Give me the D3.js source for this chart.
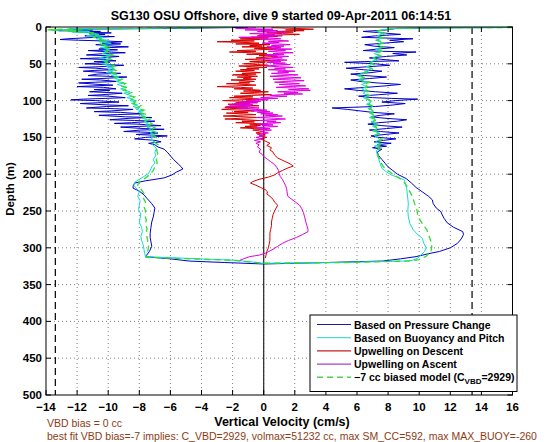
<!DOCTYPE html>
<html><head><meta charset="utf-8">
<script src="https://cdn.jsdelivr.net/npm/d3@7/dist/d3.min.js"></script>
<style>body{margin:0;background:#fff}svg{display:block}text{font-family:"Liberation Sans",Arial,Helvetica,sans-serif}</style>
</head><body><svg id="c" width="560" height="442"></svg>
<script>
// ---- data: [depth (m), velocity (cm/s)] ----
const pressureChange = [[0.5,-1],[2,-6],[3,-12.5],[4,-11],[5,-13.2],[6,-10.5],[7,-11.8],[8,-9.8],[9,-11.2],[10,-10.2],[12,-11.5],[13,-9.6],[14,-10.8],[16,-12.6],[17,-13.1],[18,-11.9],[19,-10.2],[20,-9.1],[22,-10.4],[23,-9.2],[24,-10.8],[26,-9.6],[27,-8.7],[28,-9.9],[30,-10.6],[31,-9.4],[32,-11.3],[34,-9.8],[35,-8.9],[36,-10.2],[38,-11.4],[39,-10.1],[40,-9.3],[42,-10.5],[43,-11.8],[44,-10.3],[46,-9.5],[47,-10.9],[48,-9.9],[50,-11.5],[51,-10.2],[52,-9.0],[54,-10.6],[55,-11.9],[56,-10.8],[58,-9.6],[59,-10.9],[60,-11.6],[62,-10.1],[63,-9.2],[64,-10.7],[66,-11.3],[67,-10.0],[68,-8.8],[70,-10.4],[71,-11.7],[72,-10.5],[74,-9.4],[75,-10.8],[76,-11.9],[78,-10.6],[79,-9.7],[80,-11.0],[81,-12.0],[82,-10.3],[84,-9.5],[85,-10.9],[86,-9.9],[88,-11.2],[89,-10.0],[90,-9.1],[92,-10.4],[93,-11.3],[94,-10.0],[96,-8.9],[97,-10.2],[98,-11.6],[99,-12.4],[100,-10.8],[102,-9.3],[103,-10.7],[104,-11.8],[106,-9.9],[107,-8.7],[108,-10.1],[110,-11.4],[111,-9.6],[112,-8.4],[114,-9.8],[115,-10.9],[116,-9.2],[118,-7.8],[119,-9.4],[120,-10.6],[122,-8.9],[123,-7.2],[124,-8.6],[126,-9.9],[127,-8.3],[128,-7.0],[130,-8.5],[131,-9.6],[132,-8.1],[134,-6.6],[135,-8.0],[136,-9.2],[138,-7.7],[139,-6.4],[140,-7.9],[142,-9.0],[143,-7.5],[144,-6.8],[146,-8.2],[147,-7.1],[148,-6.2],[150,-7.6],[152,-8.3],[154,-7.0],[156,-6.6],[158,-7.4],[160,-7.0],[163,-6.8],[166,-6.4],[170,-6.2],[175,-6.0],[180,-5.8],[186,-5.5],[190,-5.3],[193,-5.2],[197,-5.6],[201,-5.9],[205,-6.4],[209,-7.6],[212,-8.3],[216,-8.4],[219,-8.4],[223,-8.0],[228,-7.7],[233,-7.5],[240,-7.2],[246,-7.0],[252,-7.05],[258,-7.1],[265,-7.2],[272,-7.25],[280,-7.3],[286,-7.3],[292,-7.25],[298,-7.2],[305,-7.35],[312,-7.6],[315,-6.0],[318,-4.8],[320,-2.5],[322,0],
[320,4.0],[318,7.65],[315,8.8],[312,9.8],[308,10.6],[305,11.3],[300,12.0],[294,12.46],[288,12.7],[282,12.85],[278,12.8],[272,12.2],[266,11.8],[260,11.6],[254,11.45],[251,11.4],[246,11.1],[240,10.9],[235,10.85],[230,10.6],[224,10.2],[218,9.8],[212,9.5],[206,9.17],[200,8.6],[195,8.3],[190,8.0],[185,7.8],[180,7.6],[175,7.4],[170,7.3],[166,7.6],[164,7.0],[162,7.9],[160,7.3],[158,8.2],[156,7.1],[154,7.7],[152,8.5],[150,7.4],[148,6.9],[146,7.8],[144,8.7],[142,7.5],[140,6.8],[138,7.9],[136,8.9],[134,7.6],[132,6.7],[130,7.4],[128,8.6],[126,9.2],[124,7.8],[122,6.9],[120,7.5],[118,8.4],[116,7.0],[114,6.2],[112,5.4],[110,4.4],[109,5.8],[108,7.2],[106,8.3],[104,9.1],[102,7.6],[100,8.5],[98,9.9],[97,8.2],[96,7.0],[94,6.1],[92,7.4],[90,8.6],[88,7.2],[86,6.0],[84,5.2],[82,6.6],[80,7.8],[78,8.8],[76,7.3],[74,6.2],[72,5.6],[70,6.8],[68,7.9],[66,6.5],[64,5.6],[62,6.9],[60,7.6],[58,6.4],[56,5.3],[54,6.7],[52,8.1],[50,7.2],[48,5.2],[47,6.5],[46,8.7],[44,7.6],[42,6.8],[40,7.9],[38,9.2],[36,8.3],[34,9.8],[33,7.5],[32,6.4],[30,7.3],[28,8.4],[26,7.1],[24,6.5],[22,7.7],[20,9.0],[18,8.1],[16,9.6],[15,7.8],[14,6.3],[12,7.2],[10,8.8],[8,7.6],[6,6.4],[4,7.9],[2,8.5],[1,12],[0.3,20]];

const buoyancyPitch = [[0.3,-2],[2,-8],[3,-12],[4,-13.7],[5,-12.0],[6,-11.2],[7,-12.3],[8,-11.0],[10,-10.6],[12,-11.4],[14,-10.3],[16,-10.8],[18,-10.0],[20,-10.6],[22,-9.8],[24,-10.4],[26,-10.0],[28,-10.5],[30,-9.9],[32,-10.3],[34,-10.1],[36,-10.4],[38,-9.8],[40,-10.2],[42,-10.6],[44,-9.9],[46,-10.3],[48,-10.0],[50,-10.4],[52,-9.8],[54,-10.1],[56,-9.6],[58,-10.0],[60,-9.7],[62,-10.1],[64,-9.5],[66,-9.8],[68,-9.3],[70,-9.6],[72,-9.2],[74,-9.5],[76,-9.0],[78,-9.4],[80,-9.1],[82,-8.8],[84,-9.2],[86,-8.9],[88,-8.6],[90,-9.0],[92,-8.7],[94,-8.5],[96,-8.8],[98,-8.4],[100,-8.6],[102,-8.2],[104,-8.5],[106,-8.1],[108,-8.4],[110,-8.0],[112,-8.2],[114,-7.8],[116,-8.1],[118,-7.7],[120,-7.9],[122,-7.6],[124,-7.8],[126,-7.5],[128,-7.7],[130,-7.4],[132,-7.6],[134,-7.3],[136,-7.5],[138,-7.2],[140,-7.4],[142,-7.1],[144,-7.3],[146,-7.0],[148,-7.25],[150,-7.1],[153,-7.3],[156,-7.0],[160,-7.15],[165,-6.9],[170,-7.0],[175,-6.95],[180,-7.1],[185,-7.0],[190,-7.2],[195,-7.3],[199,-7.4],[203,-7.7],[207,-8.0],[211,-8.3],[215,-8.35],[219,-8.2],[224,-8.0],[230,-8.1],[236,-7.95],[242,-8.0],[248,-8.05],[254,-7.9],[260,-7.95],[266,-8.0],[272,-7.85],[278,-7.8],[284,-7.9],[290,-7.85],[296,-7.75],[302,-7.7],[308,-7.65],[312,-7.6],[317,-1.75],[321,0],
[320,5.0],[318,9.0],[317,9.57],[314,9.9],[310,10.1],[305,10.35],[300,10.45],[294,10.3],[287,10.2],[281,9.85],[275,9.6],[267,9.4],[258,9.3],[249,9.27],[240,9.3],[230,9.25],[220,9.2],[212,9.1],[208,9.06],[204,8.6],[201,8.2],[197,7.9],[192,7.6],[186,7.5],[180,7.4],[174,7.3],[168,7.25],[165,7.4],[162,7.1],[159,7.5],[156,7.2],[153,7.45],[150,7.3],[147,7.1],[144,7.4],[141,7.0],[138,7.3],[135,7.0],[132,7.2],[129,6.9],[126,7.2],[123,6.8],[120,7.1],[117,6.8],[114,7.05],[111,6.7],[108,7.0],[105,6.6],[102,6.9],[99,6.7],[96,6.4],[93,6.7],[90,6.4],[87,6.6],[84,6.3],[81,6.6],[78,6.3],[75,6.7],[72,6.1],[69,6.4],[66,6.0],[63,6.3],[60,6.6],[57,6.9],[54,6.6],[51,7.0],[48,6.8],[45,7.2],[42,7.0],[39,7.4],[36,7.1],[33,7.5],[30,7.2],[27,7.6],[24,7.3],[21,7.6],[18,7.2],[15,7.6],[12,7.3],[9,7.7],[6,7.2],[4,7.6],[2,8.2],[1,12],[0.3,20]];

const upwellDescent = [[1,0.5],[2,2.2],[3,3.2],[4,1.4],[5,2.6],[6,0.8],[7,1.9],[8,0.2],[9,1.2],[10,2.3],[11,0.6],[12,-0.4],[13,0.9],[14,-0.8],[15,0.3],[16,-1.5],[17,-0.2],[18,-2.1],[19,-0.6],[20,-3.0],[21,-1.2],[22,-0.3],[23,-1.8],[24,0.4],[25,-0.9],[26,-0.1],[27,-1.4],[28,0.5],[29,-0.6],[30,0.8],[31,-0.4],[32,-1.7],[33,-0.5],[34,-2.2],[35,-0.8],[36,0.2],[37,-1.1],[38,0.6],[39,-0.3],[40,0.9],[42,-0.5],[43,0.4],[44,-1.2],[45,-0.2],[46,0.7],[47,-0.9],[48,0.1],[50,-1.3],[51,-0.4],[52,0.3],[53,-1.6],[54,-0.7],[55,0.2],[56,-1.1],[57,-0.3],[58,-1.5],[59,-0.6],[60,-1.8],[61,-0.9],[62,-0.2],[63,-1.4],[64,-0.5],[65,-2.0],[66,-1.0],[67,-0.4],[68,-1.7],[69,-0.8],[70,-1.3],[71,-0.5],[72,-2.1],[73,-1.1],[74,-0.6],[75,-1.6],[76,-0.9],[77,-2.4],[78,-1.2],[79,-0.5],[80,-1.8],[81,-3.0],[82,-1.5],[83,-0.7],[84,-1.9],[85,-0.8],[86,-0.2],[87,-1.3],[88,0.3],[89,-0.6],[90,-1.5],[91,-0.4],[92,0.5],[93,-0.8],[94,-1.9],[95,-0.7],[96,-2.2],[97,-1.0],[98,-0.3],[99,-1.6],[100,-2.6],[101,-1.2],[102,-0.4],[103,-1.8],[104,-0.9],[105,-2.3],[106,-1.1],[107,-0.3],[108,-1.5],[109,-2.5],[110,-1.0],[111,-2.2],[112,-2.7],[113,-1.4],[114,-0.6],[115,-1.9],[116,-1.0],[117,-2.4],[118,-1.3],[119,-0.5],[120,-1.7],[121,-2.6],[122,-1.2],[123,-0.4],[124,-1.5],[125,-2.5],[126,-1.1],[127,-0.3],[128,-1.4],[129,-0.6],[130,-1.8],[131,-0.7],[132,0.1],[133,-0.9],[134,-0.2],[135,-1.2],[136,-0.4],[137,-1.5],[138,-0.6],[139,0.2],[140,-0.7],[142,0.0],[144,-0.5],[146,0.1],[148,-0.3],[150,0.2],[152,-0.2],[155,0.1],[158,0.4],[161,0.2],[164,0.5],[167,0.4],[170,0.6],[174,0.7],[178,0.9],[182,1.3],[186,1.7],[189,1.9],[192,1.5],[195,1.2],[198,0.9],[201,0.7],[204,0.3],[207,-0.3],[210,-0.7],[212,-0.85],[215,-0.5],[218,-0.2],[221,0.1],[224,0.25],[227,0.2],[230,0.4],[234,0.6],[238,0.7],[242,0.9],[246,0.8],[250,0.7],[255,0.6],[260,0.55],[265,0.5],[270,0.5],[275,0.45],[280,0.4],[285,0.4],[290,0.4],[295,0.35],[300,0.3],[305,0.2],[310,0.15],[314,0.1]];

const upwellAscent = [[1,-0.5],[2,-1.8],[3,0.6],[4,-1.2],[5,0.9],[6,-0.4],[7,1.5],[8,0.2],[9,-0.9],[10,0.7],[11,-0.3],[12,1.2],[13,0.1],[14,-1.6],[15,0.4],[16,1.1],[17,-0.2],[18,0.8],[19,1.6],[20,0.3],[21,1.0],[22,-0.1],[23,0.9],[24,1.7],[25,0.5],[26,1.3],[27,0.2],[28,1.1],[29,0.4],[30,1.8],[31,0.7],[32,1.4],[33,0.3],[34,1.0],[35,1.9],[36,0.6],[37,1.3],[38,0.1],[39,0.9],[40,1.6],[41,0.5],[42,1.2],[43,-0.2],[44,0.8],[45,1.5],[46,0.4],[47,1.1],[48,0.2],[49,1.4],[50,0.6],[51,1.7],[52,0.8],[53,0.1],[54,1.0],[55,1.9],[56,0.7],[57,1.4],[58,0.3],[59,1.2],[60,2.0],[61,0.9],[62,1.6],[63,0.5],[64,1.3],[65,2.2],[66,1.1],[67,0.4],[68,1.5],[69,2.4],[70,1.2],[71,0.6],[72,1.8],[73,2.6],[74,1.4],[75,0.7],[76,1.6],[77,2.3],[78,1.0],[79,1.9],[80,2.7],[81,1.5],[82,0.8],[83,2.1],[84,2.9],[85,1.6],[86,3.0],[87,1.8],[88,0.9],[89,2.2],[90,1.3],[91,2.5],[92,1.1],[93,0.4],[94,1.5],[95,0.6],[96,-0.2],[97,0.9],[98,-0.6],[99,0.3],[100,-1.1],[101,-0.2],[102,-1.5],[103,-0.4],[104,-1.9],[105,-0.7],[106,-2.2],[107,-0.9],[108,-2.4],[109,-1.0],[110,-0.3],[111,-1.6],[112,-0.5],[113,0.2],[114,-0.8],[115,0.4],[116,-0.4],[117,0.6],[118,-0.2],[119,0.9],[120,0.1],[121,1.2],[122,0.3],[123,-0.5],[124,0.7],[125,1.4],[126,0.4],[127,-0.3],[128,0.8],[129,0.2],[130,1.1],[131,0.3],[132,-0.4],[133,0.6],[134,-0.1],[135,0.9],[136,0.2],[137,-0.5],[138,0.4],[139,-0.3],[140,0.5],[142,-0.2],[144,0.3],[146,-0.4],[148,0.1],[150,-0.5],[152,-0.1],[154,-0.6],[156,-0.2],[158,-0.5],[160,-0.3],[163,-0.4],[166,-0.2],[170,-0.3],[173,-0.1],[176,0.0],[179,0.2],[183,0.45],[187,0.7],[191,0.85],[195,0.95],[199,1.0],[203,1.06],[207,1.2],[211,1.3],[215,1.4],[219,1.46],[223,1.5],[227,1.52],[230,1.55],[234,1.8],[238,2.05],[242,2.3],[247,2.45],[252,2.55],[258,2.63],[264,2.7],[270,2.78],[275,2.85],[278,2.85],[282,2.5],[286,2.1],[290,1.6],[294,1.2],[298,0.9],[302,0.6],[307,0.15],[310,-0.3],[312,-0.9],[315,-1.3],[317,-1.54]];

const biasedModel = [[0.3,-2],[2,-9],[3,-13],[4,-13.9],[5,-11.8],[6,-12.6],[8,-10.8],[10,-11.2],[12,-10.5],[14,-11.0],[16,-10.4],[18,-10.7],[20,-10.2],[23,-10.5],[26,-9.9],[29,-10.3],[32,-10.0],[35,-10.2],[38,-9.7],[41,-10.1],[44,-9.8],[47,-10.2],[50,-9.9],[53,-9.6],[56,-9.9],[59,-9.5],[62,-9.8],[65,-9.3],[68,-9.6],[71,-9.1],[74,-9.4],[77,-8.9],[80,-9.2],[83,-8.7],[86,-9.0],[89,-8.5],[92,-8.8],[95,-8.3],[98,-8.6],[101,-8.1],[104,-8.4],[107,-7.9],[110,-8.2],[113,-7.7],[116,-8.0],[119,-7.5],[122,-7.8],[125,-7.3],[128,-7.6],[131,-7.2],[134,-7.4],[137,-7.0],[140,-7.3],[143,-6.9],[146,-7.2],[150,-6.9],[155,-7.1],[160,-6.8],[165,-6.9],[170,-6.85],[175,-6.8],[180,-6.9],[185,-6.85],[190,-7.0],[195,-7.1],[200,-7.3],[205,-7.6],[210,-8.0],[215,-8.1],[220,-7.9],[226,-7.7],[232,-7.75],[238,-7.6],[244,-7.7],[250,-7.6],[256,-7.65],[262,-7.55],[268,-7.6],[274,-7.5],[280,-7.55],[286,-7.5],[292,-7.45],[298,-7.4],[304,-7.45],[310,-7.5],[313,-7.55],[317,-2.0],[321,0],
[320,5.2],[318,9.3],[316,10.0],[312,10.4],[306,10.75],[300,10.8],[294,10.8],[288,10.7],[282,10.6],[276,10.5],[270,10.3],[262,10.05],[255,9.9],[248,9.85],[240,9.7],[232,9.6],[224,9.4],[216,9.2],[210,9.0],[205,8.7],[200,8.3],[195,8.0],[190,7.7],[185,7.55],[180,7.45],[174,7.35],[168,7.3],[165,7.5],[162,7.2],[159,7.55],[156,7.3],[153,7.6],[150,7.35],[147,7.2],[144,7.5],[141,7.1],[138,7.4],[135,7.15],[132,7.35],[129,7.0],[126,7.3],[123,6.95],[120,7.2],[117,6.9],[114,7.15],[111,6.8],[108,7.1],[105,6.75],[102,7.0],[99,6.8],[96,6.5],[93,6.8],[90,6.5],[87,6.75],[84,6.4],[81,6.7],[78,6.45],[75,6.8],[72,6.2],[69,6.55],[66,6.15],[63,6.4],[60,6.75],[57,7.0],[54,6.75],[51,7.1],[48,6.9],[45,7.3],[42,7.1],[39,7.5],[36,7.2],[33,7.6],[30,7.3],[27,7.7],[24,7.4],[21,7.75],[18,7.3],[15,7.7],[12,7.4],[9,7.8],[6,7.3],[4,7.7],[2,8.5],[1,12],[0.3,20]];

const velocityLimits = [-13.4, 13.4];
const xTicks = [-14,-12,-10,-8,-6,-4,-2,0,2,4,6,8,10,12,14,16];
const yTicks = [0,50,100,150,200,250,300,350,400,450,500];
const seriesNames = ["Based on Pressure Change","Based on Buoyancy and Pitch","Upwelling on Descent","Upwelling on Ascent"];
const titleText = "SG130 OSU Offshore, dive 9 started 09-Apr-2011 06:14:51";
const noteLines = ["VBD bias = 0 cc","best fit VBD bias=-7 implies: C_VBD=2929, volmax=51232 cc, max SM_CC=592, max MAX_BUOY=-260"];

// ---- layout ----
const L=46, T=27, R=512.5, B=395;
const svg = d3.select("#c");
const x = d3.scaleLinear().domain([-14,16]).range([L,R]);
const y = d3.scaleLinear().domain([0,500]).range([T,B]);
const font = '"Liberation Sans",Arial,Helvetica,sans-serif';

svg.append("defs").append("clipPath").attr("id","clip").append("rect")
  .attr("x",L).attr("y",T).attr("width",R-L).attr("height",B-T);

// grid
const grid = svg.append("g");
grid.selectAll(".gx").data(xTicks.slice(1,-1)).join("line")
  .attr("x1",d=>x(d)).attr("x2",d=>x(d)).attr("y1",T).attr("y2",B)
  .attr("stroke","#808080").attr("stroke-width",1).attr("stroke-dasharray","1,3");
grid.selectAll(".gy").data(yTicks.slice(1,-1)).join("line")
  .attr("y1",d=>y(d)).attr("y2",d=>y(d)).attr("x1",L).attr("x2",R)
  .attr("stroke","#808080").attr("stroke-width",1).attr("stroke-dasharray","1,3");

// limits & zero line
svg.selectAll(".lim").data(velocityLimits).join("line")
  .attr("x1",d=>x(d)).attr("x2",d=>x(d)).attr("y1",T).attr("y2",B)
  .attr("stroke","#000").attr("stroke-width",1.2).attr("stroke-dasharray","7,4");
svg.append("line").attr("x1",x(0)).attr("x2",x(0)).attr("y1",T).attr("y2",B)
  .attr("stroke","#222").attr("stroke-width",1.2);

// data
const line = d3.line().x(d=>x(d[1])).y(d=>y(d[0]));
const gData = svg.append("g").attr("clip-path","url(#clip)");
const styles = [
  {data:pressureChange, color:"#0000c8", w:1, dash:null},
  {data:buoyancyPitch, color:"#10dcdc", w:1, dash:null},
  {data:upwellDescent, color:"#d80000", w:1, dash:null},
  {data:upwellAscent, color:"#e000e0", w:1, dash:null},
  {data:biasedModel, color:"#30dd30", w:1.3, dash:"6,4"}
];
styles.forEach(s=>{
  gData.append("path").datum(s.data).attr("d",line).attr("fill","none")
    .attr("stroke",s.color).attr("stroke-width",s.w)
    .attr("stroke-dasharray",s.dash);
});

// axes box and ticks
const ax = svg.append("g");
ax.append("rect").attr("x",L).attr("y",T).attr("width",R-L).attr("height",B-T)
  .attr("fill","none").attr("stroke","#000").attr("stroke-width",1);
const tl=5;
xTicks.forEach(t=>{
  ax.append("line").attr("x1",x(t)).attr("x2",x(t)).attr("y1",B).attr("y2",B-tl).attr("stroke","#000");
  ax.append("line").attr("x1",x(t)).attr("x2",x(t)).attr("y1",T).attr("y2",T+tl).attr("stroke","#000");
});
yTicks.forEach(t=>{
  ax.append("line").attr("y1",y(t)).attr("y2",y(t)).attr("x1",L).attr("x2",L+tl).attr("stroke","#000");
  ax.append("line").attr("y1",y(t)).attr("y2",y(t)).attr("x1",R).attr("x2",R-tl).attr("stroke","#000");
});
ax.selectAll(".xl").data(xTicks).join("text")
  .attr("x",d=>x(d)).attr("y",411).attr("text-anchor","middle")
  .attr("font-size","11.5px").attr("font-weight","bold").attr("font-family",font)
  .text(d=>d<0?"\u2212"+Math.abs(d):d);
ax.selectAll(".yl").data(yTicks).join("text")
  .attr("x",L-4).attr("y",d=>y(d)+4).attr("text-anchor","end")
  .attr("font-size","11.5px").attr("font-weight","bold").attr("font-family",font)
  .text(d=>d);

// labels
svg.append("text").attr("x",281).attr("y",19.5).attr("text-anchor","middle")
  .attr("font-size","12.5px").attr("font-weight","bold").attr("font-family",font).text(titleText);
svg.append("text").attr("x",282).attr("y",426).attr("text-anchor","middle")
  .attr("font-size","12.5px").attr("font-weight","bold").attr("font-family",font).text("Vertical Velocity (cm/s)");
svg.append("text").attr("transform","translate(14,189) rotate(-90)").attr("text-anchor","middle")
  .attr("font-size","11.5px").attr("font-weight","bold").attr("font-family",font).text("Depth (m)");
svg.append("text").attr("x",47).attr("y",427).attr("font-size","10.5px").attr("font-family",font)
  .attr("fill","#8c3c14").text(noteLines[0]);
svg.append("text").attr("x",47).attr("y",439.5).attr("font-size","10.5px").attr("font-family",font)
  .attr("fill","#8c3c14").text(noteLines[1]);

// legend
const lg = svg.append("g");
lg.append("rect").attr("x",310).attr("y",315).attr("width",207).attr("height",76.5)
  .attr("fill","#fff").attr("stroke","#000").attr("stroke-width",1);
const legendColors = ["#1c1c96","#50dcdc","#c02020","#b040c0","#50d050"];
const rowsY = [324.5,337.7,350.9,364.1,377.3];
seriesNames.forEach((n,i)=>{
  lg.append("line").attr("x1",317).attr("x2",351).attr("y1",rowsY[i]).attr("y2",rowsY[i])
    .attr("stroke",legendColors[i]).attr("stroke-width",1.2);
  lg.append("text").attr("x",354).attr("y",rowsY[i]+4).attr("font-size","10.5px").attr("font-weight","bold")
    .attr("font-family",font).text(n);
});
lg.append("line").attr("x1",317).attr("x2",351).attr("y1",rowsY[4]).attr("y2",rowsY[4])
  .attr("stroke",legendColors[4]).attr("stroke-width",1.4).attr("stroke-dasharray","6,4");
const t5 = lg.append("text").attr("x",354).attr("y",rowsY[4]+4).attr("font-size","10.5px").attr("font-weight","bold").attr("font-family",font);
t5.append("tspan").text("\u22127 cc biased model (C");
t5.append("tspan").attr("font-size","8px").attr("dy",3).text("VBD");
t5.append("tspan").attr("dy",-3).text("=2929)");
</script></body></html>
